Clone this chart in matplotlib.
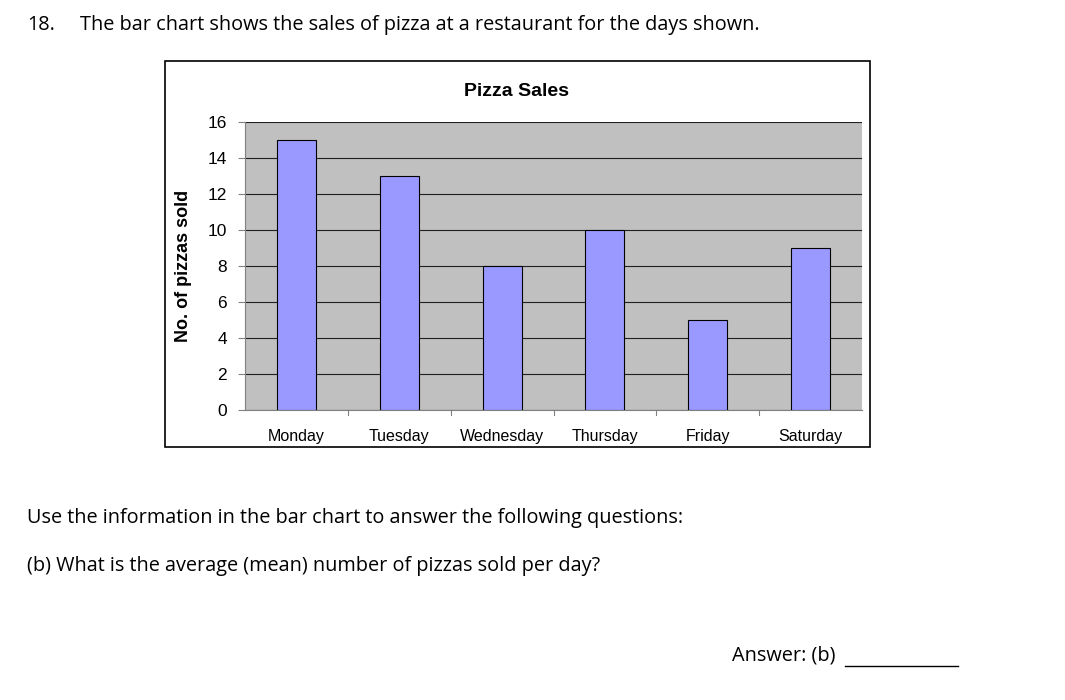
import matplotlib
matplotlib.use("Agg")
import matplotlib.pyplot as plt
from matplotlib.patches import Rectangle

days = ["Monday", "Tuesday", "Wednesday", "Thursday", "Friday", "Saturday"]
sales = [15, 13, 8, 10, 5, 9]
yticks = [0, 2, 4, 6, 8, 10, 12, 14, 16]

W, H = 1065, 700
fig = plt.figure(figsize=(W/100, H/100), dpi=100)
fig.patch.set_facecolor("white")

def fx(x): return x / W
def fy(y): return 1 - y / H

txtfont = "Open Sans"
fs = 14.3
fig.text(fx(27), fy(25), "18.", fontsize=fs, family=txtfont, va="center")
fig.text(fx(80), fy(25), "The bar chart shows the sales of pizza at a restaurant for the days shown.",
         fontsize=fs, family=txtfont, va="center")
fig.text(fx(27), fy(518), "Use the information in the bar chart to answer the following questions:",
         fontsize=fs, family=txtfont, va="center")
fig.text(fx(27), fy(566), "(b) What is the average (mean) number of pizzas sold per day?",
         fontsize=fs, family=txtfont, va="center")
fig.text(fx(732), fy(655), "Answer: (b)", fontsize=fs, family=txtfont, va="center")
fig.add_artist(plt.Line2D([fx(845), fx(958)], [fy(666), fy(666)], color="black", lw=1))

# chart frame
fig.add_artist(Rectangle((fx(165), fy(447)), fx(870) - fx(165), fy(61) - fy(447),
                         fill=False, edgecolor="black", lw=1.2, transform=fig.transFigure))
fig.text(fx(517), fy(91), "Pizza Sales", fontsize=14, weight="bold",
         family="Liberation Sans", ha="center", va="center")
fig.text(fx(183), fy(266), "No. of pizzas sold", fontsize=13, weight="bold",
         family="Liberation Sans", ha="center", va="center", rotation=90)

ax = fig.add_axes([fx(245), fy(410), fx(862) - fx(245), fy(122) - fy(410)])
ax.set_facecolor("#c0c0c0")
ax.bar(range(len(days)), sales, width=0.38, color="#9999ff", edgecolor="black", lw=0.8, zorder=3)
ax.set_xlim(-0.5, len(days) - 0.5)
ax.set_ylim(0, 16)
ax.set_yticks(yticks)
ax.set_xticks(range(len(days)))
ax.set_xticklabels(days, family="Liberation Sans", fontsize=11.5)
ax.set_yticklabels([str(v) for v in yticks], family="Liberation Sans", fontsize=12.5)
ax.yaxis.grid(True, color="#202020", lw=0.8, zorder=1)
ax.set_axisbelow(True)
for s in ["top", "right"]:
    ax.spines[s].set_visible(False)
ax.spines["left"].set_color("#808080")
ax.spines["bottom"].set_color("#808080")
ax.tick_params(axis="y", length=5, color="#808080", pad=8)
ax.tick_params(axis="x", length=0, pad=14)
for x in [k + 0.5 for k in range(len(days) - 1)]:
    ax.plot([x, x], [0, -0.25], color="#808080", lw=0.8, clip_on=False)

fig.savefig("out.png", dpi=100)
